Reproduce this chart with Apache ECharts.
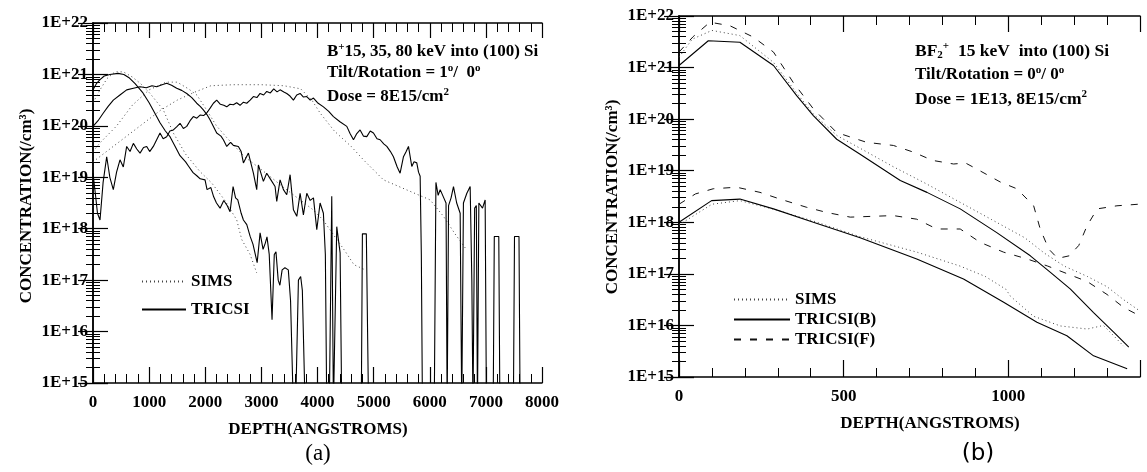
<!DOCTYPE html>
<html>
<head>
<meta charset="utf-8">
<script src="https://cdn.jsdelivr.net/npm/echarts@6/dist/echarts.min.js"></script>
<style>html,body{margin:0;background:#fff}#c{width:1147px;height:472px}</style>
</head>
<body>
<div id="c"></div>
<script>
// values: [depth (angstrom), log10(concentration /cm3)]
// 14.5 = dropped to zero (below the axis floor)

// panel (a): B+ 15, 35, 80 keV
var simsA15 = [[0,20.45],[125,20.7],[250,20.92],[392,21.05],[540,21.05],[700,20.95],[850,20.82],[1016,20.63],[1253,20.31],[1432,19.86],[1650,19.45],[1907,19.11],[2115,18.89],[2350,18.55],[2561,18.17],[2650,17.79],[2799,17.5],[2917,17.14]]
var simsA35 = [[0,19.5],[125,19.67],[422,20.0],[700,20.4],[1000,20.7],[1300,20.85],[1500,20.85],[1700,20.72],[1850,20.6],[2000,20.35],[2200,20.0],[2400,19.75],[2700,19.4],[3000,19.15],[3400,18.8],[3920,18.37],[4100,18.17],[4500,17.55],[4650,17.3],[4850,17.2]]
var simsA80 = [[0,19.3],[300,19.55],[600,19.8],[900,20.05],[1200,20.3],[1500,20.5],[1800,20.65],[2100,20.78],[2500,20.8],[3000,20.8],[3400,20.78],[3700,20.72],[3900,20.5],[4046,20.25],[4300,19.9],[4600,19.6],[4818,19.34],[5175,18.95],[5600,18.75],[6007,18.56],[6245,18.24],[6450,17.9],[6650,17.6]]

var triA15 = [[0,20.7],[60,20.82],[125,20.9],[200,20.97],[300,21.0],[446,21.02],[550,21.0],[650,20.93],[750,20.82],[890,20.64],[1000,20.45],[1100,20.25],[1194,20.06],[1290,19.9],[1372,19.79],[1450,19.63],[1550,19.42],[1650,19.3],[1700,19.22],[1783,19.09],[1850,19.03],[1910,18.97],[1996,18.95],[2032,18.76],[2100,18.8],[2150,18.62],[2200,18.5],[2264,18.4],[2330,18.55],[2390,18.45],[2442,18.33],[2496,18.82],[2540,18.6],[2580,18.56],[2640,18.3],[2680,18.17],[2740,18.08],[2800,17.85],[2850,17.7],[2925,17.34],[2977,17.92],[3030,17.6],[3070,17.72],[3100,17.84],[3140,17.5],[3190,16.23],[3230,17.5],[3260,17.55],[3300,17.0],[3330,16.9],[3370,17.2],[3420,17.24],[3480,17.2],[3520,16.6],[3570,14.5],[3610,14.5],[3660,17.0],[3700,17.07],[3730,16.8],[3780,14.5]]
var triA35 = [[0,19.99],[90,20.1],[184,20.25],[270,20.38],[362,20.5],[480,20.6],[600,20.7],[720,20.73],[838,20.76],[950,20.74],[1050,20.78],[1135,20.76],[1230,20.8],[1313,20.83],[1400,20.79],[1491,20.73],[1580,20.69],[1670,20.63],[1760,20.55],[1848,20.44],[1910,20.38],[1966,20.31],[2030,20.22],[2085,20.12],[2150,19.98],[2204,19.86],[2280,19.8],[2323,19.73],[2383,19.6],[2450,19.68],[2501,19.62],[2590,19.6],[2640,19.5],[2680,19.28],[2769,19.47],[2858,19.08],[2917,18.76],[2947,19.24],[3036,18.92],[3095,19.08],[3170,18.95],[3244,18.82],[3274,18.53],[3333,18.95],[3393,18.76],[3452,18.66],[3512,19.05],[3571,18.37],[3631,18.24],[3690,18.69],[3749,18.27],[3809,18.69],[3870,18.55],[3928,18.6],[3987,17.98],[4046,18.5],[4105,18.3],[4140,17.5],[4165,14.5],[4210,14.5],[4254,18.63],[4284,14.5],[4310,14.5],[4343,18.04],[4403,17.53],[4432,14.5],[4780,14.5],[4800,17.9],[4870,17.9],[4910,14.5]]
var triA80 = [[0,19.08],[40,18.7],[80,18.3],[125,18.17],[180,18.9],[244,19.4],[300,19.0],[362,18.76],[420,19.1],[481,19.34],[540,19.2],[600,19.6],[660,19.5],[719,19.66],[780,19.55],[838,19.47],[900,19.58],[957,19.6],[1010,19.5],[1075,19.6],[1130,19.72],[1194,19.86],[1250,19.75],[1313,19.79],[1370,19.9],[1432,19.92],[1490,19.98],[1551,20.05],[1610,19.95],[1670,19.99],[1730,20.1],[1788,20.18],[1850,20.15],[1907,20.21],[1970,20.2],[2026,20.25],[2090,20.35],[2145,20.44],[2204,20.5],[2270,20.42],[2330,20.4],[2383,20.37],[2440,20.42],[2501,20.41],[2560,20.45],[2620,20.4],[2680,20.46],[2739,20.44],[2800,20.5],[2858,20.57],[2920,20.55],[2977,20.63],[3040,20.6],[3096,20.67],[3160,20.64],[3220,20.72],[3280,20.66],[3333,20.7],[3400,20.66],[3452,20.63],[3510,20.58],[3571,20.5],[3630,20.6],[3690,20.63],[3750,20.56],[3809,20.57],[3870,20.5],[3928,20.54],[4000,20.45],[4106,20.37],[4200,20.28],[4284,20.18],[4400,20.08],[4522,19.99],[4580,19.85],[4641,19.73],[4700,19.85],[4759,19.92],[4820,19.8],[4878,19.79],[4940,19.9],[4997,19.86],[5060,19.75],[5116,19.73],[5180,19.65],[5235,19.6],[5300,19.5],[5353,19.4],[5420,19.2],[5472,19.08],[5532,19.4],[5580,19.5],[5621,19.6],[5680,19.21],[5720,19.3],[5769,19.28],[5800,19.1],[5829,19.02],[5850,17.5],[5870,14.5],[6080,14.5],[6110,18.9],[6150,18.65],[6186,18.76],[6250,18.6],[6290,18.5],[6310,14.5],[6335,18.45],[6380,18.6],[6423,18.82],[6480,18.5],[6542,18.3],[6570,14.5],[6600,18.5],[6661,18.69],[6720,18.82],[6750,17.0],[6770,14.5],[6800,18.4],[6830,18.45],[6850,14.5],[6875,18.5],[6940,18.4],[6987,18.56],[7010,14.5],[7130,14.5],[7150,17.85],[7230,17.85],[7250,14.5],[7490,14.5],[7510,17.85],[7590,17.85],[7610,14.5]]

// panel (b): BF2+ 15 keV, doses 8E15 (hi) and 1E13 (lo)
var simsBhi = [[0,21.2],[40,21.55],[100,21.72],[185,21.62],[287,21.1],[358,20.5],[408,20.1],[480,19.68],[560,19.4],[650,19.08],[750,18.75],[850,18.4],[950,18.05],[1050,17.7],[1110,17.4],[1170,17.15],[1240,16.95],[1300,16.75],[1350,16.5],[1395,16.3]]
var simsBlo = [[0,17.95],[100,18.35],[185,18.42],[290,18.25],[410,18.02],[550,17.72],[723,17.42],[854,17.15],[930,16.95],[993,16.7],[1006,16.57],[1076,16.18],[1158,15.99],[1240,15.93],[1289,16.0],[1320,15.8],[1350,15.6]]
var triBhi = [[0,21.04],[89,21.52],[185,21.49],[287,21.04],[358,20.45],[408,20.07],[479,19.61],[550,19.32],[672,18.81],[753,18.58],[854,18.26],[965,17.8],[1067,17.35],[1128,17.03],[1188,16.71],[1259,16.25],[1320,15.87],[1366,15.58]]
var triBlo = [[0,18.0],[99,18.42],[185,18.45],[287,18.26],[408,18.0],[550,17.7],[722,17.29],[864,16.9],[986,16.45],[1087,16.06],[1178,15.8],[1259,15.41],[1361,15.16]]
var triFhi = [[0,21.3],[43,21.6],[94,21.88],[155,21.81],[226,21.59],[287,21.3],[347,20.71],[408,20.2],[479,19.74],[570,19.55],[651,19.49],[712,19.36],[770,19.2],[834,19.13],[870,19.15],[905,19.03],[976,18.78],[1026,18.65],[1077,18.32],[1097,17.87],[1123,17.48],[1150,17.3],[1185,17.35],[1214,17.55],[1239,17.93],[1270,18.26],[1330,18.32],[1395,18.35]]
var triFlo = [[0,18.35],[50,18.55],[104,18.65],[175,18.68],[246,18.58],[307,18.45],[388,18.29],[449,18.19],[520,18.1],[651,18.13],[722,18.06],[783,17.87],[854,17.87],[915,17.61],[986,17.42],[1057,17.29],[1120,17.15],[1180,17.0],[1240,16.85],[1300,16.6],[1350,16.35],[1395,16.2]]

var xMaxA = 8000, xMaxB = 1400
var yMin = 1e15, yMax = 1e22

var toC = a => a.map(p => [p[0], Math.pow(10, p[1])])
var SERIF = '"Liberation Serif", "Times New Roman", serif'

var DOT = {color:'#444', width:1, type:[1,3]}
var SOLID = {color:'#000', width:1.1, type:'solid'}
var DASH = {color:'#111', width:1, type:[7,9]}

var ln = (name, data, ax, st) => ({
  type:'line', name:name, data:toC(data), xAxisIndex:ax, yAxisIndex:ax,
  symbol:'none', showSymbol:false, lineStyle:st, itemStyle:{color:st.color},
  clip:true, silent:true, animation:false
})

var tickFont = {fontFamily:SERIF, fontSize:17, fontWeight:'bold', color:'#000'}
var axLine = {show:true, lineStyle:{color:'#000', width:1.5}}

var xAx = (g, max, iv, pos, lab, big) => ({
  gridIndex:g, type:'value', min:0, max:max, interval:iv, position:pos,
  axisLine:axLine, splitLine:{show:false},
  axisTick:{inside:true, length:big, lineStyle:{color:'#000', width:1.2}},
  minorTick:{show:true, splitNumber:5, length:9, lineStyle:{color:'#000', width:1}},
  axisLabel: lab ? Object.assign({show:true, margin:11, showMinLabel:true, showMaxLabel: max % iv == 0,
    formatter: v => (v % iv == 0 ? String(v) : '')}, tickFont) : {show:false}
})
var yAx = (g, pos, lab) => ({
  gridIndex:g, type:'log', logBase:10, min:yMin, max:yMax, position:pos,
  axisLine:axLine, splitLine:{show:false},
  axisTick:{inside:true, length:15, lineStyle:{color:'#000', width:1.2}},
  minorTick:{show:true, splitNumber:9, length:7, lineStyle:{color:'#000', width:1}},
  axisLabel: lab ? Object.assign({show:true, margin:5, showMinLabel:true, showMaxLabel:true,
    formatter: v => '1E+' + Math.round(Math.log10(v))}, tickFont) : {show:false}
})

var legText = {fontFamily:SERIF, fontSize:17, fontWeight:'bold', color:'#000'}
var rn = (sz) => ({font:'bold ' + sz + 'px ' + SERIF, fill:'#000', lineHeight:20})
var rs = (sz, va) => ({font:'bold ' + sz + 'px ' + SERIF, fill:'#000', lineHeight:sz, verticalAlign:va})
var note = (x, y, txt, sz) => ({type:'text', x:x, y:y, silent:true, style:{text:txt, align:'left', verticalAlign:'middle',
  rich:{n:rn(sz || 17), s:rs(11,'top'), u:rs(11,'bottom')}}})
var lbl = (x, y, txt, font, rot) => ({type:'text', x:x, y:y, rotation:rot || 0, silent:true,
  style:{text:txt, font:font, fill:'#000', align:'center', verticalAlign:'middle'}})

var chart = echarts.init(document.getElementById('c'))
chart.setOption({
  backgroundColor:'#fff',
  animation:false,
  grid:[
    {left:93, top:23, width:449, height:360},
    {left:679, top:16, width:461, height:361}
  ],
  xAxis:[
    xAx(0, xMaxA, 1000, 'bottom', true, 16),
    xAx(0, xMaxA, 1000, 'top', false, 15),
    xAx(1, xMaxB, 500, 'bottom', true, 17),
    xAx(1, xMaxB, 500, 'top', false, 16)
  ],
  yAxis:[
    yAx(0, 'left', true), yAx(0, 'right', false),
    yAx(1, 'left', true), yAx(1, 'right', false)
  ],
  legend:[
    {data:['SIMS','TRICSI'], orient:'vertical', left:141, top:273, padding:0, itemWidth:44, itemHeight:10, itemGap:11,
      itemStyle:{opacity:0}, textStyle:legText, selectedMode:false},
    {data:['SIMS','TRICSI(B)','TRICSI(F)'], orient:'vertical', left:733, top:291, padding:0, itemWidth:56, itemHeight:10, itemGap:3,
      itemStyle:{opacity:0}, textStyle:legText, selectedMode:false}
  ],
  series:[
    ln('SIMS', simsA15, 0, DOT), ln('SIMS', simsA35, 0, DOT), ln('SIMS', simsA80, 0, DOT),
    ln('TRICSI', triA15, 0, SOLID), ln('TRICSI', triA35, 0, SOLID), ln('TRICSI', triA80, 0, SOLID),
    ln('SIMS', simsBhi, 2, DOT), ln('SIMS', simsBlo, 2, DOT),
    ln('TRICSI(B)', triBhi, 2, SOLID), ln('TRICSI(B)', triBlo, 2, SOLID),
    ln('TRICSI(F)', triFhi, 2, DASH), ln('TRICSI(F)', triFlo, 2, DASH)
  ],
  graphic:[
    lbl(27, 206, 'CONCENTRATION(/cm³)', 'bold 17px ' + SERIF, Math.PI/2),
    lbl(613, 197, 'CONCENTRATION(/cm³)', 'bold 17px ' + SERIF, Math.PI/2),
    lbl(318, 430, 'DEPTH(ANGSTROMS)', 'bold 17px ' + SERIF),
    lbl(930, 424, 'DEPTH(ANGSTROMS)', 'bold 17px ' + SERIF),
    lbl(318, 454, '(a)', '23px ' + SERIF),
    lbl(978, 454, '(b)', '23px "DejaVu Sans", sans-serif'),
    note(327, 52, '{n|B}{s|+}{n|15, 35, 80 keV into (100) Si}'),
    note(327, 73, '{n|Tilt/Rotation = 1}{s|o}{n|/  0}{s|o}'),
    note(327, 97, '{n|Dose = 8E15/cm}{s|2}'),
    note(915, 51, '{n|BF}{u|2}{s|+}{n|  15 keV  into (100) Si}', 17.5),
    note(915, 75, '{n|Tilt/Rotation = 0}{s|o}{n|/ 0}{s|o}'),
    note(915, 99, '{n|Dose = 1E13, 8E15/cm}{s|2}', 17.5)
  ]
})
</script>
</body>
</html>
